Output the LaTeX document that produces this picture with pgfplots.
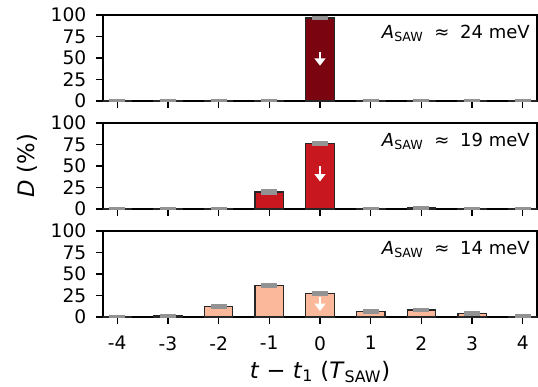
\documentclass[border=0pt]{standalone}
\usepackage{pgfplots}
\pgfplotsset{compat=1.18}
\usepgfplotslibrary{groupplots}
\usetikzlibrary{arrows.meta,calc}
\usepackage{fontspec}
\setmainfont{DejaVu Sans}
\usepackage{amsmath}
\definecolor{cA}{HTML}{7A0510}
\definecolor{cB}{HTML}{C8171F}
\definecolor{cC}{HTML}{FCB89B}
\pgfplotstableread{
x y e
-4 0.5 0.4
-3 0.4 0.4
-2 0.5 0.4
-1 0.8 0.5
0 96.5 1.2
1 0.5 0.4
2 0.3 0.3
3 0.3 0.3
4 0.8 0.5
}\tabA
\pgfplotstableread{
x y e
-4 0.3 0.3
-3 0.2 0.2
-2 0.5 0.4
-1 19.8 1.5
0 76.5 1.2
1 0.3 0.3
2 1.2 1.0
3 0.3 0.3
4 0.8 0.5
}\tabB
\pgfplotstableread{
x y e
-4 0.5 0.4
-3 1.2 1.0
-2 12 1.5
-1 36.5 1.5
0 27.2 1.5
1 6.3 1.3
2 8.1 1.3
3 3.9 1.3
4 0.8 0.6
}\tabC
\newcommand{\tf}{\fontsize{14}{16}\selectfont}
\newcommand{\lf}{\fontsize{17}{20}\selectfont}
\newcommand{\ann}[1]{\textit{A}$_{\text{SAW}}$\hspace{0.6em}≈\hspace{0.6em}#1 meV}
\begin{document}
\begin{tikzpicture}
\begin{groupplot}[
  group style={group size=1 by 3, vertical sep=16.5pt, xticklabels at=edge bottom, group name=G},
  width=325.5pt, height=64.5pt, scale only axis,
  xmin=-4.28, xmax=4.28, ymin=0, ymax=100,
  xtick={-4,...,4}, xticklabels={{\tf -4},{\tf -3},{\tf -2},{\tf -1},{\tf 0},{\tf 1},{\tf 2},{\tf 3},{\tf 4}},
  ytick={0,25,50,75,100}, yticklabels={{\tf 0},{\tf 25},{\tf 50},{\tf 75},{\tf 100}},
  tick align=outside, major tick length=5pt,
  tick style={line width=1pt, black},
  axis line style={line width=1.1pt},
  xtick pos=bottom, ytick pos=left,
  yticklabel style={xshift=-4pt},
  xticklabel style={yshift=-6pt},
  /pgf/number format/assume math mode=true,
  ybar, /pgf/bar width=0.56,
]
\pgfplotsset{every axis plot/.append style={
  error bars/y dir=both, error bars/y explicit,
  error bars/error bar style={line width=0.7pt, black},
  error bars/error mark options={rotate=90, mark size=6pt, line width=2pt, gray!85}}}
\nextgroupplot
\addplot[fill=cA, draw=black!85, line width=1pt] table[x=x, y=y, y error=e] {\tabA};
\draw[white, line width=2.2pt, -{Triangle[length=5.5pt,width=8pt]}] (axis cs:0,57) -- (axis cs:0,41);
\node[anchor=north east, inner sep=0pt, font=\fontsize{13.5}{15}\selectfont] at (rel axis cs:0.984,0.885) {\ann{24}};
\nextgroupplot[ylabel={\lf\textit{D} (\%)}, ylabel style={yshift=3pt}]
\addplot[fill=cB, draw=black!85, line width=1pt] table[x=x, y=y, y error=e] {\tabB};
\draw[white, line width=2.2pt, -{Triangle[length=5.5pt,width=8pt]}] (axis cs:0,50) -- (axis cs:0,32);
\node[anchor=north east, inner sep=0pt, font=\fontsize{13.5}{15}\selectfont] at (rel axis cs:0.984,0.885) {\ann{19}};
\nextgroupplot[xlabel={\lf\textit{t} − \textit{t}$_{\text{1}}$ (\textit{T}$_{\text{SAW}}$)}, xlabel style={yshift=-1pt}]
\addplot[fill=cC, draw=black!85, line width=1pt] table[x=x, y=y, y error=e] {\tabC};
\draw[white, line width=2.2pt, -{Triangle[length=5.5pt,width=8pt]}] (axis cs:0,23) -- (axis cs:0,7);
\node[anchor=north east, inner sep=0pt, font=\fontsize{13.5}{15}\selectfont] at (rel axis cs:0.984,0.885) {\ann{14}};
\end{groupplot}
\pgfresetboundingbox
\path ($(G c1r1.north west)+(-77.25pt,11.25pt)$) rectangle ($(G c1r3.south east)+(0.75pt,-51.75pt)$);
\end{tikzpicture}
\end{document}
